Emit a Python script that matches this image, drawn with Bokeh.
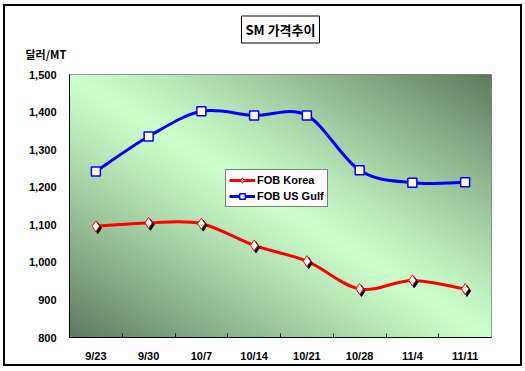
import numpy as np
from bokeh.plotting import figure
from bokeh.layouts import column
from bokeh.models import (ColumnDataSource, FixedTicker, NumeralTickFormatter, Title,
                          Legend, LegendItem)
from bokeh.transform import dodge
from bokeh.embed import file_html
from bokeh.resources import INLINE

# ---- data ----
dates = ["9/23", "9/30", "10/7", "10/14", "10/21", "10/28", "11/4", "11/11"]
fob_korea = [1096, 1105, 1103, 1045, 1003, 929, 952, 929]
fob_us_gulf = [1242, 1335, 1402, 1391, 1391, 1245, 1212, 1213]
y_ticks = [800, 900, 1000, 1100, 1200, 1300, 1400, 1500]
title_text = "SM 가격추이"
unit_text = "달러/MT"

xpos = [i + 0.5 for i in range(len(dates))]

FONT = "Liberation Sans"
KFONT = "Noto Sans CJK KR"


def bezier_source(xs, ys):
    n = len(xs)
    d = dict(x0=[], y0=[], x1=[], y1=[], cx0=[], cy0=[], cx1=[], cy1=[])
    for i in range(n - 1):
        im = max(i - 1, 0)
        ip = min(i + 2, n - 1)
        d["x0"].append(xs[i]); d["y0"].append(ys[i])
        d["x1"].append(xs[i + 1]); d["y1"].append(ys[i + 1])
        d["cx0"].append(xs[i] + (xs[i + 1] - xs[im]) / 6)
        d["cy0"].append(ys[i] + (ys[i + 1] - ys[im]) / 6)
        d["cx1"].append(xs[i + 1] - (xs[ip] - xs[i]) / 6)
        d["cy1"].append(ys[i + 1] - (ys[ip] - ys[i]) / 6)
    return ColumnDataSource(d)


p = figure(width=515, height=358, x_range=(0, len(dates)), y_range=(y_ticks[0], y_ticks[-1]),
           output_backend="svg", toolbar_location=None, title=None,
           min_border_left=64, min_border_right=29, min_border_top=68, min_border_bottom=27)

# background gradient (style only)
H, W = 263, 422
yy, xx = np.mgrid[0:H, 0:W]
fx = xx / (W - 1)
fy = yy / (H - 1)          # row 0 = bottom
u = np.abs((fx - 0.5) + (fy - 0.5))
u = np.clip(u, 0, 1) ** 1.15
light = np.array([204, 255, 204])
dark = np.array([94, 122, 94])
rgb = light[None, None, :] + (dark - light)[None, None, :] * u[..., None]
img = np.empty((H, W), dtype=np.uint32)
view = img.view(dtype=np.uint8).reshape((H, W, 4))
view[..., 0] = rgb[..., 0]
view[..., 1] = rgb[..., 1]
view[..., 2] = rgb[..., 2]
view[..., 3] = 255
p.image_rgba(image=[img], x=0, y=y_ticks[0], dw=len(dates), dh=y_ticks[-1] - y_ticks[0])

p.outline_line_color = "#808080"
p.outline_line_width = 1
p.background_fill_color = None
p.border_fill_color = "white"

# grid
p.xgrid.grid_line_color = None
p.ygrid.grid_line_color = "black"
p.ygrid.grid_line_width = 1
p.ygrid.ticker = FixedTicker(ticks=y_ticks)

# axes
p.yaxis.ticker = FixedTicker(ticks=y_ticks)
p.yaxis.formatter = NumeralTickFormatter(format="0,0")
p.yaxis.major_tick_out = 0
p.yaxis.major_tick_in = 0
p.yaxis.minor_tick_line_color = None
p.yaxis.axis_line_color = "black"
p.yaxis.major_label_standoff = 13
p.yaxis.major_label_text_font = FONT
p.yaxis.major_label_text_font_style = "bold"
p.yaxis.major_label_text_font_size = "11px"
p.yaxis.major_label_text_color = "black"

p.xaxis.ticker = FixedTicker(ticks=xpos, minor_ticks=list(range(1, len(dates))))
p.xaxis.major_label_overrides = {x: d for x, d in zip(xpos, dates)}
p.xaxis.major_tick_line_color = None
p.xaxis.minor_tick_in = 4
p.xaxis.minor_tick_out = 0
p.xaxis.minor_tick_line_color = "black"
p.xaxis.axis_line_color = "black"
p.xaxis.major_label_standoff = 6
p.xaxis.major_label_text_font = FONT
p.xaxis.major_label_text_font_style = "bold"
p.xaxis.major_label_text_font_size = "11px"
p.xaxis.major_label_text_color = "black"

# series
ks = ColumnDataSource(dict(x=xpos, y=fob_korea))
us = ColumnDataSource(dict(x=xpos, y=fob_us_gulf))

kb = p.bezier(x0="x0", y0="y0", x1="x1", y1="y1", cx0="cx0", cy0="cy0", cx1="cx1", cy1="cy1",
              source=bezier_source(xpos, fob_korea), line_color="red", line_width=3)
ub = p.bezier(x0="x0", y0="y0", x1="x1", y1="y1", cx0="cx0", cy0="cy0", cx1="cx1", cy1="cy1",
              source=bezier_source(xpos, fob_us_gulf), line_color="blue", line_width=3)

# marker shadows for diamonds
p.scatter(x=dodge("x", 0.035, range=p.x_range), y=dodge("y", -5, range=p.y_range), source=ks,
          marker="diamond", size=11, fill_color="black", line_color="black")
kd = p.scatter(x="x", y="y", source=ks, marker="diamond", size=11,
               fill_color="white", line_color="red", line_width=1)
ud = p.scatter(x="x", y="y", source=us, marker="square", size=9,
               fill_color="white", line_color="blue", line_width=1.5)

legend = Legend(items=[LegendItem(label="FOB Korea", renderers=[kb, kd]),
                       LegendItem(label="FOB US Gulf", renderers=[ub, ud])],
                location=(156, 130), margin=0, padding=3, spacing=2,
                label_height=14, glyph_height=14, glyph_width=26, label_standoff=2,
                border_line_color="black", border_line_width=1,
                background_fill_color="white", background_fill_alpha=1,
                label_text_font=FONT, label_text_font_style="bold",
                label_text_font_size="11px", label_text_color="black")
p.add_layout(legend, "center")

# unit text (closest to frame) and boxed chart title
p.add_layout(Title(text=unit_text, align="left", offset=-44, standoff=26,
                   text_font=KFONT, text_font_style="bold", text_font_size="11px",
                   text_color="black"), "above")
p.add_layout(Title(text=title_text, align="center", offset=-4, standoff=-25, padding=4,
                   text_font=KFONT, text_font_style="bold", text_font_size="13px",
                   text_color="black", border_line_color="black", border_line_width=1,
                   background_fill_color="white"), "above")

page = column(p, styles={"border": "2px solid black"}, margin=(4, 0, 0, 3))

open("out.html", "w").write(file_html(page, INLINE))
